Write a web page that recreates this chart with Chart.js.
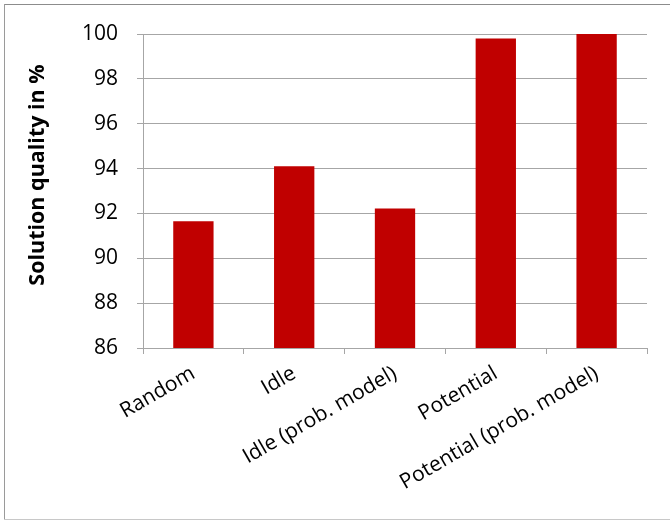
<!DOCTYPE html>
<html>
<head>
<meta charset="utf-8">
<script src="https://cdn.jsdelivr.net/npm/chart.js@4/dist/chart.umd.min.js"></script>
<style>
  body { margin: 0; background: #fff; }
  #wrap { position: relative; width: 670px; height: 520px; }
</style>
</head>
<body>
<div id="wrap"><canvas id="myChart" width="670" height="520"></canvas></div>
<script>
const categories = ["Random", "Idle", "Idle (prob. model)", "Potential", "Potential (prob. model)"]
const quality = [91.65, 94.1, 92.22, 99.8, 100]
const yMin = 86
const yMax = 100
const yStep = 2
const yTitle = "Solution quality in %"

const FONT = "'Open Sans', sans-serif"
const GRID = "#a6a6a6"

// frame lines (top, left, bottom - the right edge is cut off) + the y title, a bit above centre
const frame = {
  id: "frame",
  beforeDraw(chart) {
    const ctx = chart.ctx
    ctx.save()
    ctx.fillStyle = "#fff"
    ctx.fillRect(0, 0, chart.width, chart.height)
    ctx.lineWidth = 1
    ctx.strokeStyle = "#8c8c8c"
    ctx.beginPath()
    ctx.moveTo(4, 4.5)
    ctx.lineTo(670, 4.5)
    ctx.stroke()
    ctx.strokeStyle = "#9a9a9a"
    ctx.beginPath()
    ctx.moveTo(4.5, 4)
    ctx.lineTo(4.5, 520)
    ctx.stroke()
    ctx.strokeStyle = "#c8c8c8"
    ctx.beginPath()
    ctx.moveTo(4, 519.5)
    ctx.lineTo(670, 519.5)
    ctx.stroke()
    ctx.restore()
  },
  afterDraw(chart) {
    const ctx = chart.ctx
    ctx.save()
    ctx.translate(38, 175)
    ctx.rotate(-Math.PI / 2)
    ctx.font = "bold 21.5px " + FONT
    ctx.fillStyle = "#000"
    ctx.textAlign = "center"
    ctx.textBaseline = "middle"
    ctx.fillText(yTitle, 0, 0)
    ctx.restore()
  },
}

new Chart(document.getElementById("myChart"), {
  type: "bar",
  data: {
    labels: categories,
    datasets: [
      {
        data: quality,
        backgroundColor: "#c00000",
        borderWidth: 0,
        barPercentage: 0.4,
        categoryPercentage: 1,
      },
    ],
  },
  options: {
    responsive: false,
    animation: false,
    layout: { padding: { left: 0, top: 34, right: 23, bottom: 0 } },
    plugins: { legend: { display: false }, tooltip: { enabled: false } },
    scales: {
      x: {
        grid: {
          offset: true,
          drawOnChartArea: false,
          drawTicks: true,
          tickLength: 6,
          color: GRID,
        },
        border: { color: GRID },
        ticks: {
          minRotation: 30,
          maxRotation: 30,
          padding: 7,
          color: "#000",
          font: { family: FONT, size: 21 },
        },
        afterFit(scale) {
          scale.height = 172
        },
      },
      y: {
        min: yMin,
        max: yMax,
        grid: { color: GRID, tickLength: 6 },
        border: { color: GRID },
        ticks: {
          stepSize: yStep,
          padding: 19,
          color: "#000",
          font: { family: FONT, size: 21 },
        },
        afterFit(scale) {
          scale.width = 143
        },
      },
    },
  },
  plugins: [frame],
})
</script>
</body>
</html>
